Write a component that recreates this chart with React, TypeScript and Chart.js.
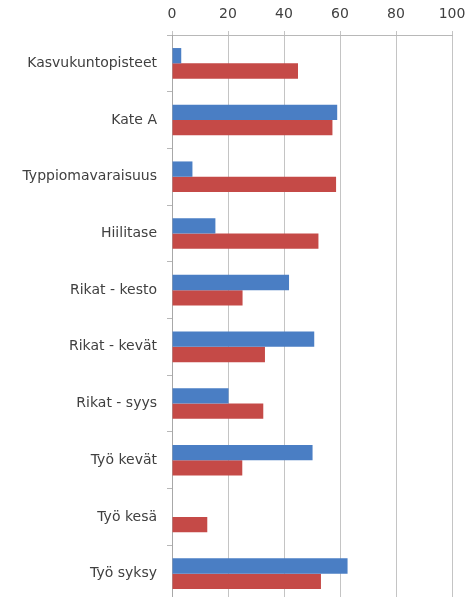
import React, { useEffect, useRef } from 'react';
import { Chart, registerables } from 'chart.js';

Chart.register(...registerables);

const categories = [
  'Kasvukuntopisteet',
  'Kate A',
  'Typpiomavaraisuus',
  'Hiilitase',
  'Rikat - kesto',
  'Rikat - kevät',
  'Rikat - syys',
  'Työ kevät',
  'Työ kesä',
  'Työ syksy',
];
const blueValues = [3.3, 59, 7.3, 15.5, 41.8, 50.8, 20.2, 50.2, 0, 62.7];
const redValues = [45, 57.3, 58.6, 52.3, 25.2, 33.2, 32.6, 25.1, 12.6, 53.2];
const xTicks = [0, 20, 40, 60, 80, 100];

export default function App() {
  const canvasRef = useRef<HTMLCanvasElement>(null);

  useEffect(() => {
    const ctx = canvasRef.current!.getContext('2d')!;
    const chart = new Chart(ctx, {
      type: 'bar',
      data: {
        labels: categories,
        datasets: [
          {
            label: 'Sarja 1',
            data: blueValues,
            backgroundColor: '#4a7ec4',
            borderWidth: 0,
            categoryPercentage: 0.54,
            barPercentage: 1,
          },
          {
            label: 'Sarja 2',
            data: redValues,
            backgroundColor: '#c54a47',
            borderWidth: 0,
            categoryPercentage: 0.54,
            barPercentage: 1,
          },
        ],
      },
      options: {
        indexAxis: 'y',
        responsive: true,
        maintainAspectRatio: false,
        animation: false,
        layout: { padding: { top: 0, right: 13, bottom: 0, left: 0 } },
        plugins: {
          legend: { display: false },
          tooltip: { enabled: false },
        },
        scales: {
          x: {
            position: 'top',
            min: 0,
            max: 100,
            afterBuildTicks: (scale: any) => {
              scale.ticks = xTicks.map(v => ({ value: v }));
            },
            afterFit: (scale: any) => {
              scale.height = 35;
              scale.paddingLeft = 0;
              scale.paddingRight = 0;
            },
            grid: { color: '#c4c4c4', lineWidth: 1, tickLength: 4 },
            border: { color: '#b8b8b8' },
            ticks: {
              color: '#404040',
              padding: 8,
              font: { family: 'DejaVu Sans', size: 14 },
            },
          },
          y: {
            afterFit: (scale: any) => {
              scale.width = 172;
              scale.paddingTop = 0;
              scale.paddingBottom = 0;
            },
            grid: { drawOnChartArea: false, drawTicks: true, tickLength: 5, color: '#b8b8b8' },
            border: { color: '#a8a8a8' },
            ticks: {
              color: '#404040',
              padding: 10,
              font: { family: 'DejaVu Sans', size: 14 },
            },
          },
        },
      },
    });
    return () => chart.destroy();
  }, []);

  return (
    <div style={{ position: 'absolute', left: 0, top: 0, width: 465, height: 602, background: '#fff' }}>
      <canvas ref={canvasRef} aria-label="Vaakapylväskaavio"></canvas>
    </div>
  );
}
